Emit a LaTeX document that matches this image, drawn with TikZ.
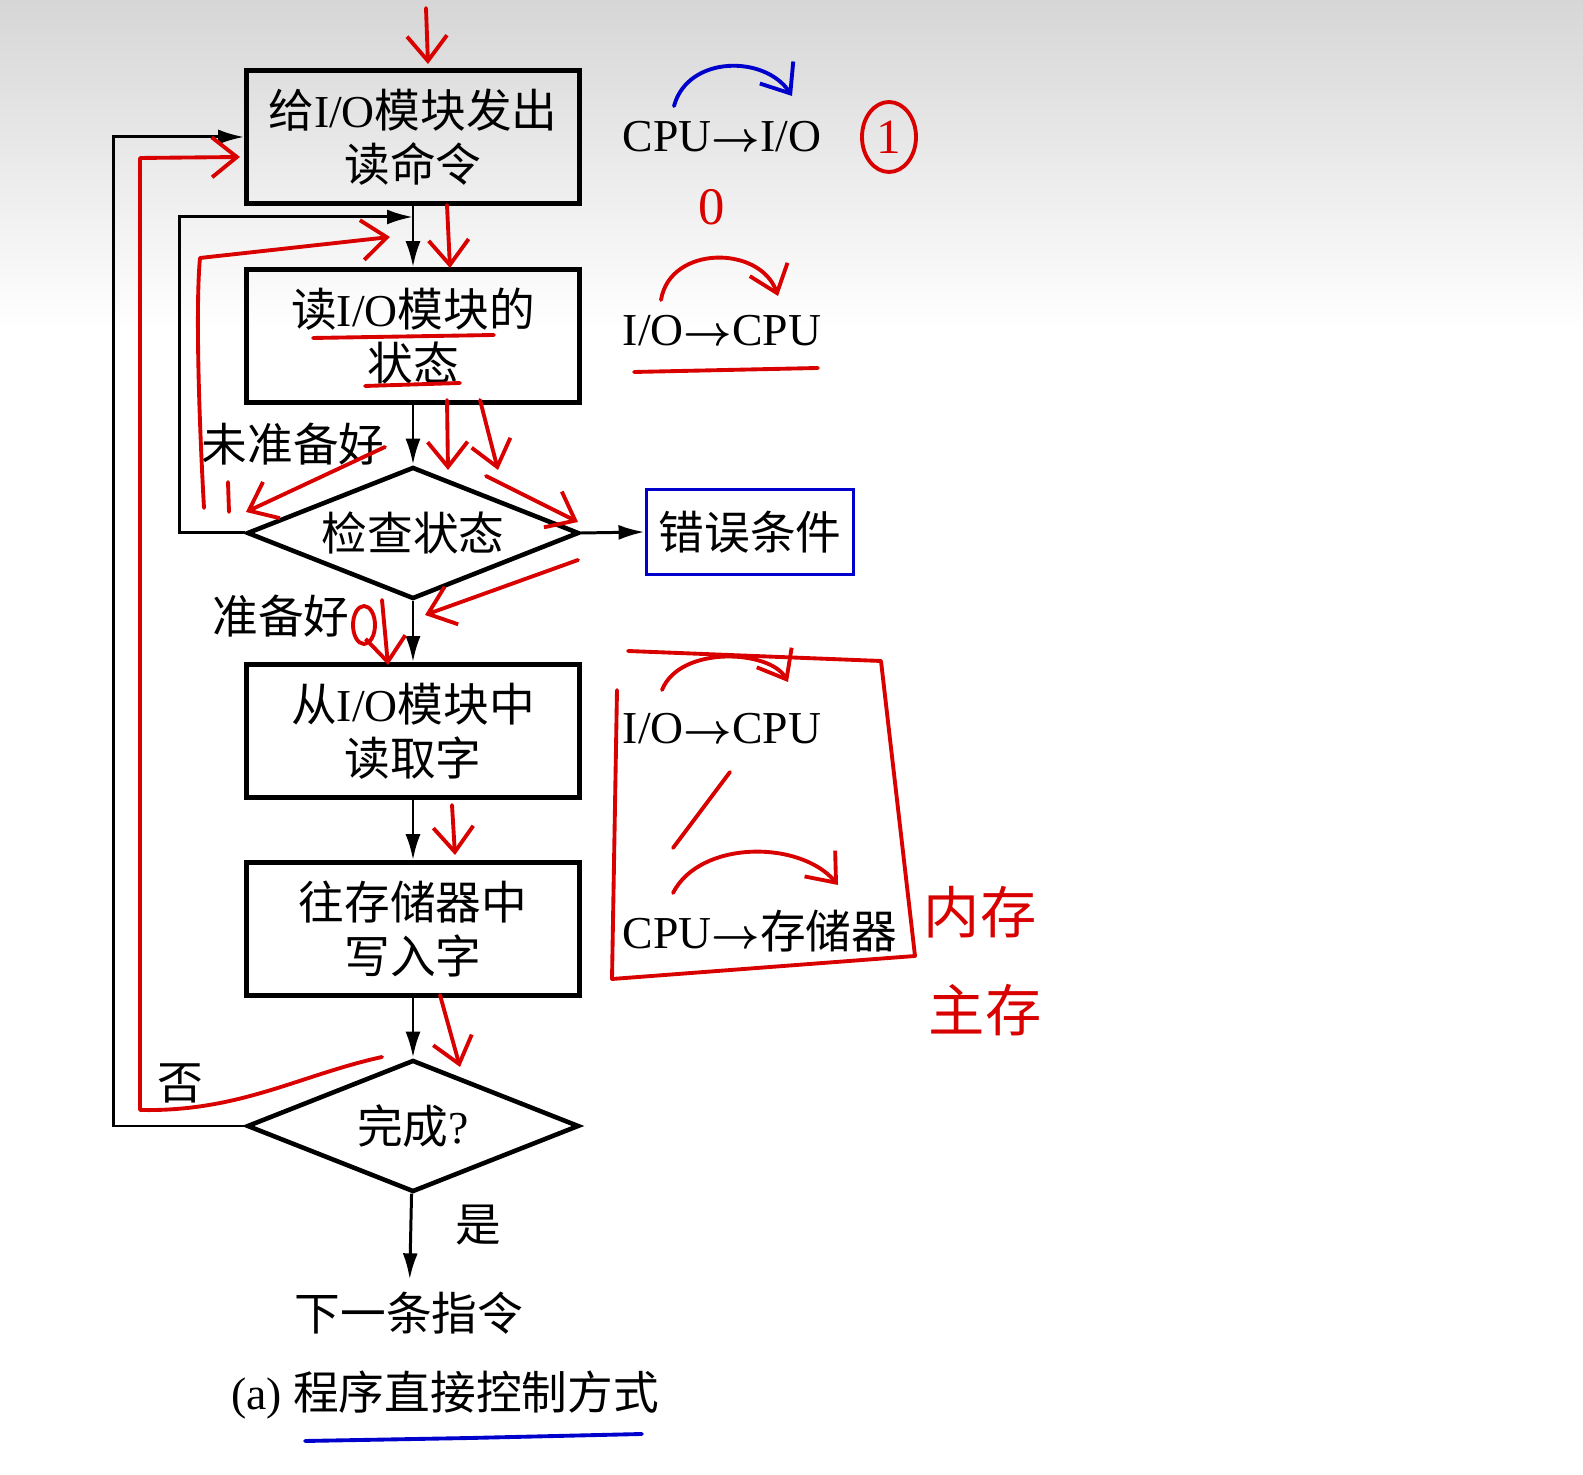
\documentclass[tikz,border=0pt]{standalone}
\usepackage{amsmath}
\usepackage{fontspec}
\setmainfont{Liberation Serif}
\newfontfamily\zh{Noto Sans CJK SC}
\usetikzlibrary{shapes.geometric,arrows.meta}
\newcommand{\zc}[1]{{\zh #1}}
\newcommand{\tto}{$\boldsymbol{\rightarrow}$}

\begin{document}
\begin{tikzpicture}[
    x=0.1mm, y=-0.1mm,
    % printed flowchart
    box/.style={draw, line width=1.3pt, minimum width=33.3mm, minimum height=13.3mm,
                align=center, inner sep=0pt, font=\fontsize{13}{15.5}\selectfont},
    decision/.style={draw, diamond, shape aspect=2.5, line width=1.3pt, minimum width=33.2mm,
                minimum height=13.2mm, inner sep=0pt, font=\fontsize{13}{15}\selectfont},
    flow/.style={line width=0.85pt, -{Latex[length=2.6mm,width=1.5mm]}},
    tag/.style={font=\fontsize{13}{15}\selectfont},
    % hand-written annotations
    pen/.style={red!85!black, line width=1.1pt, line cap=round, line join=round},
    bluepen/.style={pen, draw=blue!80!black},
    hand/.style={pen, -{Straight Barb[length=2.5mm,width=4mm]}},
    handtext/.style={text=red!85!black, font=\zh\fontsize{16}{18}\selectfont},
]
    \useasboundingbox (0,0) rectangle (1583,1475);
    \fill[top color=black!16, bottom color=white, draw=none] (0,0) rectangle (1583,330);

    % --- Flowchart ---
    \node[box] (cmd)  at (413,137) {\zc{给}I/O\zc{模块发出}\\\zc{读命令}};
    \node[box] (stat) at (413,336) {\zc{读}I/O\zc{模块的}\\\zc{状态}};
    \node[decision] (check) at (413,533) {\zc{检查状态}};
    \node[box] (read)  at (413,731) {\zc{从}I/O\zc{模块中}\\\zc{读取字}};
    \node[box] (write) at (413,929) {\zc{往存储器中}\\\zc{写入字}};
    \node[decision] (done) at (413,1126) {\zc{完成}?};
    \node[tag] (next) at (409,1313) {\zc{下一条指令}};
    \node[tag, draw=blue!80!black, line width=1.1pt, minimum width=20.7mm,
          minimum height=8.5mm] (err) at (750,532) {\zc{错误条件}};
    \coordinate (join) at (413,217);

    % Edges
    \draw[flow] (cmd) -- (stat);
    \draw[flow] (stat) -- (check);
    \draw[flow] (check) -- (read);
    \draw[flow] (read) -- (write);
    \draw[flow] (write) -- (done);
    \draw[flow] (done) -- (next);
    \draw[flow] (check.east) -- (err.west);
    \draw[flow] (check.west) -- ++(-65,0) |- (join);
    \draw[flow] (done.west) -- ++(-131,0) |- (cmd.west);

    % Edge labels
    \node[tag] (notready) at (293,444) {\zc{未准备好}};
    \node[tag] (ready)    at (281,616) {\zc{准备好}};
    \node[tag] (no)       at (180,1083) {\zc{否}};
    \node[tag] (yes)      at (478,1225) {\zc{是}};
    \node[tag] (caption)  at (445,1395) {(a) \zc{程序直接控制方式}};

    % Transfer directions
    \node[tag] (cpuio) at (722,137) {CPU\tto I/O};
    \node[tag] (iocpu) at (722,331) {I/O\tto CPU};
    \node[tag] (iocpuB) at (722,729) {I/O\tto CPU};
    \node[tag] (cpumem) at (760,931) {CPU\tto\zc{存储器}};

    % --- Hand-written notes ---
    \draw[bluepen, -{Straight Barb[length=2.5mm,width=4mm]}]
        (674,106) .. controls (688,55) and (765,55) .. (792,96);
    \node[pen, draw, ellipse, minimum width=5.4mm, minimum height=7mm, inner sep=0pt,
          text=red!85!black, font=\fontsize{14}{16}\selectfont] (one) at (889,137) {1};
    \node[handtext, font=\fontsize{15}{17}\selectfont] (zero) at (712,207) {0};
    \draw[hand] (661,300) .. controls (670,245) and (760,245) .. (778,296);
    \draw[pen] (634,372) -- (818,368);
    \draw[pen] (313,338) -- (494,335);
    \draw[pen] (365,386) -- (460,383);
    \draw[bluepen] (305,1441) -- (470,1438) -- (642,1434);

    % box round the data moves
    \draw[pen] (617,690) -- (612,979) -- (915,956) -- (881,661) -- (628,651);
    \draw[hand] (662,690) .. controls (680,645) and (770,650) .. (788,682);
    \draw[pen] (730,772) -- (673,848);
    \draw[hand] (673,893) .. controls (700,840) and (800,840) .. (838,885);
    \node[handtext] (inner) at (980,912) {内存};
    \node[handtext] (main)  at (985,1010) {主存};

    % traces along the flow
    \draw[hand] (426,8) -- (428,64);
    \draw[hand] (447,205) -- (450,268);
    \draw[hand] (447,400) -- (448,470);
    \draw[hand] (480,400) -- (498,470);
    \draw[hand] (486,476) -- (578,522);
    \draw[hand] (385,447) -- (246,512);
    \draw[hand] (578,560) -- (425,615);
    \draw[pen] (364,625) ellipse (11 and 19);
    \draw[hand] (382,600) -- (388,665);
    \draw[hand] (452,805) -- (455,855);
    \draw[hand] (440,995) -- (460,1067);
    \draw[pen] (228,482) -- (229,512);
    \draw[hand] (204,508) .. controls (198,400) and (196,300) .. (200,258) -- (390,237);
    \draw[hand] (382,1057) .. controls (300,1075) and (240,1112) .. (140,1110)
        -- (140,158) -- (240,157);

\end{tikzpicture}
\end{document}
